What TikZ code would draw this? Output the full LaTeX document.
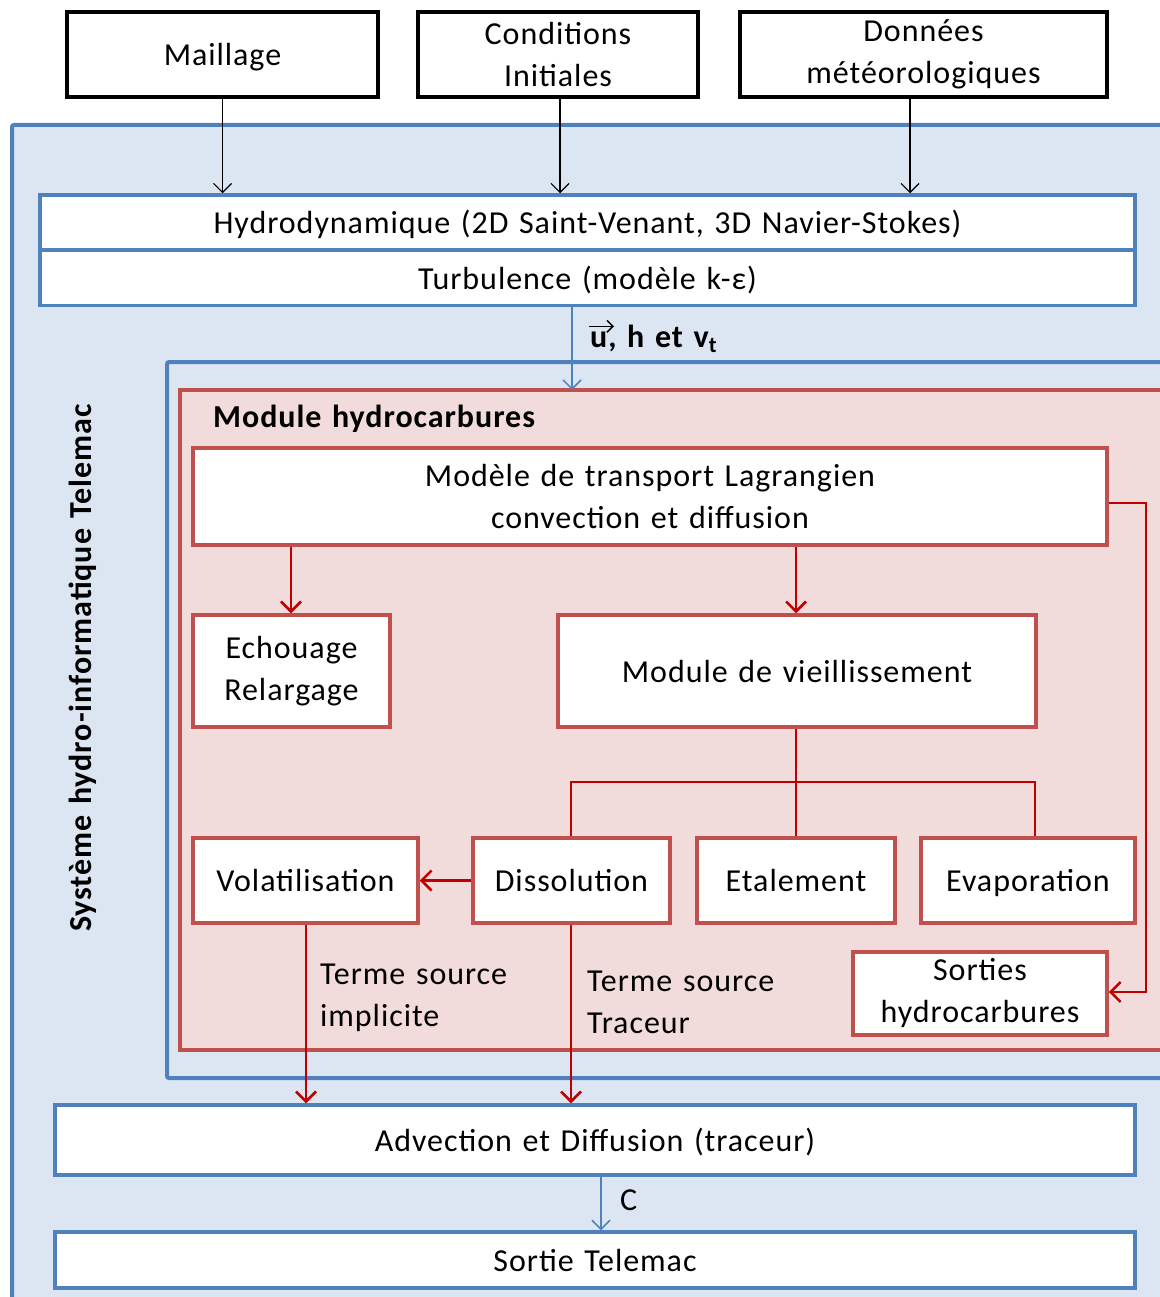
\documentclass[tikz,border=0pt]{standalone}
\usepackage{fontspec}
\setmainfont{Carlito}[LetterSpace=3,WordSpace=1.3]
\usetikzlibrary{arrows.meta}
\definecolor{bfill}{HTML}{DCE6F2}
\definecolor{bline}{HTML}{4F81BD}
\definecolor{rfill}{HTML}{F2DCDB}
\definecolor{rline}{HTML}{C0504D}
\definecolor{rarrow}{HTML}{C00000}
\begin{document}
\begin{tikzpicture}[x=1pt,y=-1pt,
  txt/.style={font=\fontsize{32}{42}\selectfont},
  btxt/.style={font=\fontsize{32}{42}\selectfont\bfseries},
  sl/.style={text height=23pt,text depth=1pt},
  inbox/.style={draw=black,line width=4pt,fill=white,txt,align=center,inner sep=0pt},
  bluebox/.style={draw=bline,line width=3.5pt,fill=white,txt,align=center,inner sep=0pt},
  redbox/.style={draw=rline,line width=3.5pt,fill=white,txt,align=center,inner sep=0pt},
  blkarr/.style={draw=black,line width=1.2pt,-{Straight Barb[length=9pt,width=18pt,line width=1.2pt]}},
  bluarr/.style={draw=bline,line width=1.5pt,-{Straight Barb[length=9pt,width=18pt,line width=1.5pt]}},
  redarr/.style={draw=rarrow,line width=2.5pt,-{Straight Barb[length=10pt,width=20pt,line width=2.5pt]}},
  redline/.style={draw=rarrow,line width=2.5pt},
  lbl/.style={txt,align=left,anchor=west,inner sep=0pt}
]
\useasboundingbox (0,0) rectangle (1159,1297);
% outer frames
\draw[fill=bfill,draw=bline,line width=4pt,rounded corners=2pt] (12,125) rectangle (1200,1340);
% top inputs
\node[inbox,sl,minimum width=311pt,minimum height=85pt] (mail) at (222.5,54.5) {Maillage};
\node[inbox,minimum width=280pt,minimum height=85pt] (cond) at (558,54.5) {Conditions\\Initiales};
\node[inbox,minimum width=367pt,minimum height=85pt] (meteo) at (923.5,54.5) {Données\\météorologiques};
% hydro
\node[bluebox,sl,minimum width=1095pt,minimum height=55pt] (hydro) at (587.5,222.5) {Hydrodynamique (2D Saint-Venant, 3D Navier-Stokes)};
\node[bluebox,sl,minimum width=1095pt,minimum height=55pt] (turb) at (587.5,278) {Turbulence (modèle k-ε)};
% second blue frame
\draw[fill=bfill,draw=bline,line width=4pt,rounded corners=2pt] (167,362) rectangle (1200,1078);
% red frame
\draw[fill=rfill,draw=rline,line width=4pt] (180,390) rectangle (1200,1050);
\node[btxt,anchor=west,inner sep=0pt] (modh) at (213,419) {Module hydrocarbures};
% boxes
\node[redbox,minimum width=914pt,minimum height=97pt] (lag) at (650,496.5) {Modèle de transport Lagrangien\\convection et diffusion};
\node[redbox,minimum width=197pt,minimum height=112pt] (echo) at (291.5,671) {Echouage\\Relargage};
\node[redbox,sl,minimum width=478pt,minimum height=112pt] (vieil) at (797,671) {Module de vieillissement};
\node[redbox,sl,minimum width=225pt,minimum height=85pt] (vola) at (305.5,880.5) {Volatilisation};
\node[redbox,sl,minimum width=197pt,minimum height=85pt] (diss) at (571.5,880.5) {Dissolution};
\node[redbox,sl,minimum width=198pt,minimum height=85pt] (etal) at (796,880.5) {Etalement};
\node[redbox,sl,minimum width=214pt,minimum height=85pt] (evap) at (1028,880.5) {Evaporation};
\node[redbox,minimum width=254pt,minimum height=83pt] (sort) at (980,993.5) {Sorties\\hydrocarbures};
% bottom boxes
\node[bluebox,sl,minimum width=1080pt,minimum height=70pt] (adv) at (595,1140) {Advection et Diffusion (traceur)};
\node[bluebox,sl,minimum width=1080pt,minimum height=56pt] (stel) at (595,1260) {Sortie Telemac};
% rotated label
\node[btxt,rotate=90,inner sep=0pt] (sys) at (83,668) {Système hydro-informatique Telemac};
% black arrows
\draw[blkarr] (mail.south) -- (mail.south |- hydro.north);
\draw[blkarr] (cond.south -| 560,0) -- (560,0 |- hydro.north);
\draw[blkarr] (meteo.south -| 910,0) -- (910,0 |- hydro.north);
% blue arrows
\coordinate (redtop) at (572,390);
\draw[bluarr] (turb.south -| 572,0) -- (redtop);
\node[btxt,anchor=base west,inner sep=0pt] (uhv) at (590,347) {u, h et v\textsubscript{t}};
\coordinate (va) at ([xshift=-1pt,yshift=-2pt]uhv.north west);
\coordinate (vb) at ([xshift=24pt,yshift=-2pt]uhv.north west);
\draw[black,line width=1.5pt,-{Straight Barb[length=6pt,width=12pt,line width=1.5pt]}] (va) -- (vb);
\draw[bluarr] (adv.south -| 601,0) -- (601,0 |- stel.north);
\node[lbl] (clbl) at (620,1200) {C};
% red arrows
\draw[redarr] (lag.south -| 291,0) -- (291,0 |- echo.north);
\draw[redarr] (lag.south -| 796,0) -- (796,0 |- vieil.north);
\coordinate (jn) at (796,782);
\draw[redline] (vieil.south -| jn) -- (jn);
\draw[redline] (diss.north -| 571,0) -- (571,782) -- (1035,782) -- (evap.north -| 1035,0);
\draw[redline] (jn) -- (etal.north -| jn);
\draw[redarr] (diss.west) -- (vola.east);
\draw[redarr] (lag.east |- 0,503) -- (1146,503) -- (1146,992) -- (sort.east |- 0,992);
\draw[redarr] (vola.south -| 306,0) -- (306,0 |- adv.north);
\draw[redarr] (diss.south -| 571,0) -- (571,0 |- adv.north);
\node[lbl] (ts1) at (320,998) {Terme source\\implicite};
\node[lbl] (ts2) at (587,1002) {Terme source\\Traceur};
\end{tikzpicture}
\end{document}
